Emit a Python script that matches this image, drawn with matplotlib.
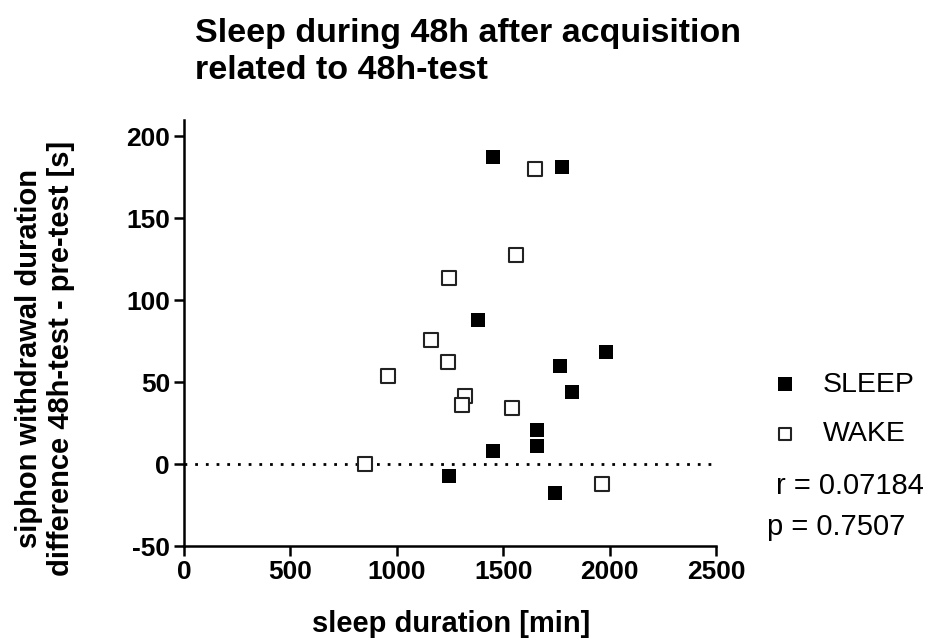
'''Sleep during 48h after acquisition vs. 48h-test difference.'''
from matplotlib import pyplot as plt

# sleep duration [min] / siphon withdrawal difference [s]
sleep_x = [1450, 1778, 1380, 1983, 1765, 1822, 1660, 1657, 1454, 1244, 1742]
sleep_y = [187.4, 181, 87.8, 68.1, 60, 43.9, 20.7, 11, 7.9, -7.3, -17.5]
wake_x = [1649, 1559, 1245, 1159, 1241, 959, 1319, 1305, 1540, 851, 1963]
wake_y = [179.7, 127.4, 113.4, 75.6, 62, 54, 41.5, 36, 34, 0, -12.2]
r_value = 0.07184
p_value = 0.7507

plt.rcParams['font.family'] = ['Liberation Sans', 'DejaVu Sans']
plt.rcParams['axes.unicode_minus'] = False

fig = plt.figure(figsize=(9.31, 6.39), dpi=100)
ax = fig.add_axes([0.1976, 0.1455, 0.5714, 0.667])

ax.plot([0, 2500], [0, 0], color='black', linewidth=2,
        linestyle=(0, (1, 2.85)), zorder=1)
ax.scatter(sleep_x, sleep_y, marker='s', s=110, color='black',
           linewidths=0, label='SLEEP', zorder=3)
ax.scatter(wake_x, wake_y, marker='s', s=100, facecolor='white',
           edgecolor='#222222', linewidths=1.5, label='WAKE', zorder=3)

# Axis limits
ax.set_xlim(0, 2500)
ax.set_ylim(-50, 210)
ax.set_xticks([0, 500, 1000, 1500, 2000, 2500])
ax.set_yticks([-50, 0, 50, 100, 150, 200])

for side in ('top', 'right'):
    ax.spines[side].set_visible(False)
for side in ('left', 'bottom'):
    ax.spines[side].set_linewidth(1.8)
ax.tick_params(width=1.8, length=7, direction='out', labelsize=19, pad=3)
for label in ax.get_xticklabels() + ax.get_yticklabels():
    label.set_fontweight('bold')

# Labels
ax.set_xlabel('sleep duration [min]', fontsize=21, fontweight='bold')
ax.xaxis.set_label_coords(0.503, -0.15)
ax.set_ylabel('siphon withdrawal duration\ndifference 48h-test - pre-test [s]',
              fontsize=21, fontweight='bold', linespacing=1.2)
ax.yaxis.set_label_coords(-0.205, 0.44)
fig.text(0.209, 0.972, 'Sleep during 48h after acquisition\nrelated to 48h-test',
         fontsize=24.5, fontweight='bold', ha='left', va='top', linespacing=1.27)

ax.legend(loc='upper left', bbox_to_anchor=(0.800, 0.436),
          bbox_transform=fig.transFigure, frameon=False, fontsize=20.5,
          markerscale=0.9, handlelength=2, handletextpad=0.35,
          labelspacing=0.83, borderaxespad=0)
fig.text(0.833, 0.24, f'r = {r_value}', fontsize=21, va='center')
fig.text(0.824, 0.175, f'p = {p_value}', fontsize=21, va='center')

fig.savefig('out.png', dpi=100)
